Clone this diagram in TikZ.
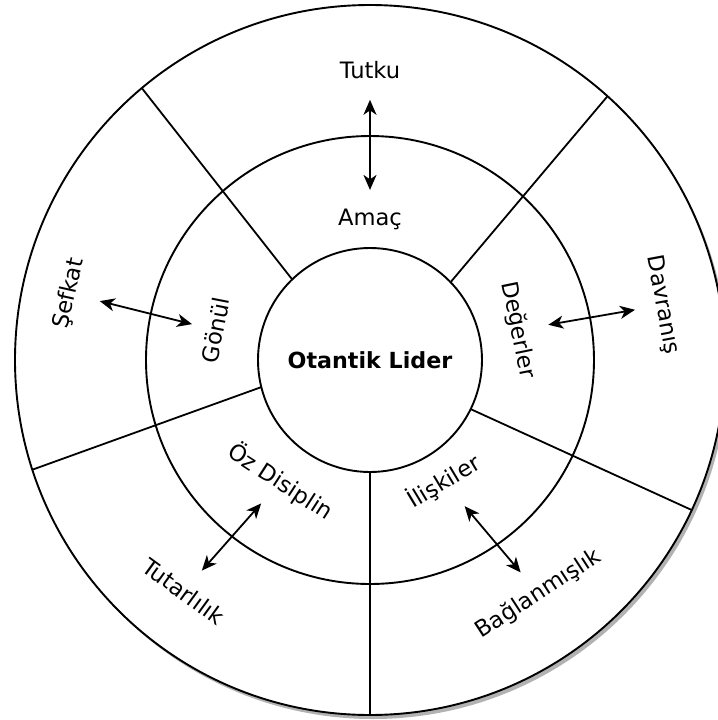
\documentclass[tikz,border=0pt]{standalone}
\usepackage{fontspec}
\setmainfont{DejaVu Sans}
\usetikzlibrary{arrows.meta,calc}

\begin{document}
\begin{tikzpicture}[
	x=0.5pt, y=0.5pt,
	ring/.style={circle, draw, line width=0.95pt, fill=white, inner sep=0pt, outer sep=0pt},
	txt/.style={font=\fontsize{11.3}{13}\selectfont, inner sep=0pt},
	arr/.style={{Stealth[length=7.5pt,width=6.5pt,inset=2.2pt]}-{Stealth[length=7.5pt,width=6.5pt,inset=2.2pt]}, line width=0.9pt},
	spoke/.style={line width=0.9pt}
	]
	
	\useasboundingbox (-370,-360) rectangle (348,360);
	
	% Shadow
	\fill[black!30] (3,-4) circle (355);
	
	% Rings
	\node[ring, minimum size=355pt] (outer) at (0,0) {};
	\node[ring, minimum size=224pt] (middle) at (0,0) {};
	\node[ring, minimum size=112pt, font=\bfseries\fontsize{11.1}{13}\selectfont] (lider) at (0,0) {Otantik Lider};
	
	% Spokes
	\draw[spoke] (lider.134.6) -- (outer.130.9);
	\draw[spoke] (lider.44.5) -- (outer.48);
	\draw[spoke] (lider.194.8) -- (outer.198.3);
	\draw[spoke] (lider.334.2) -- (outer.335);
	\draw[spoke] (lider.270) -- (outer.270);
	
	% Inner ring texts
	\node[txt] (amac) at (0,141) {Amaç};
	\node[txt, rotate=79] (gonul) at (-154.5,30) {Gönül};
	\node[txt, rotate=-78.5] (degerler) at (148,30) {Değerler};
	\node[txt, rotate=-33] (oz) at (-89.4,-121.4) {Öz Disiplin};
	\node[txt, rotate=31] (iliskiler) at (73.8,-121.4) {İlişkiler};
	
	% Outer ring texts
	\node[txt] (tutku) at (0,290) {Tutku};
	\node[txt, rotate=77.5] (sefkat) at (-301,66.6) {Şefkat};
	\node[txt, rotate=-79.4] (davranis) at (292.5,55) {Davranış};
	\node[txt, rotate=-36] (tutarlilik) at (-186.6,-231.5) {Tutarlılık};
	\node[txt, rotate=33] (baglanmislik) at (168.7,-233.8) {Bağlanmışlık};
	
	% Arrows
	\draw[arr] ($(tutku)!0.2!(amac)$) -- ($(tutku)!0.805!(amac)$);
	\draw[arr] ($(sefkat)!0.21!(gonul)$) -- ($(sefkat)!0.84!(gonul)$);
	\draw[arr] ($(degerler)!0.21!(davranis)$) -- ($(degerler)!0.81!(davranis)$);
	\draw[arr] ($(oz)!0.2!(tutarlilik)$) -- ($(oz)!0.81!(tutarlilik)$);
	\draw[arr] ($(iliskiler)!0.22!(baglanmislik)$) -- ($(iliskiler)!0.81!(baglanmislik)$);
	
\end{tikzpicture}
\end{document}
